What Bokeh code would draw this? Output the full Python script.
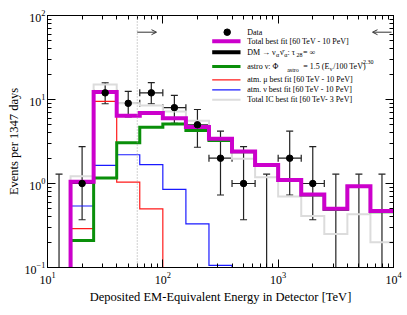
import numpy as np
from bokeh.plotting import figure
from bokeh.models import (LogAxis, LogTicker, Whisker, TeeHead, Span, Arrow,
                          OpenHead, Label, ColumnDataSource)
from bokeh.embed import file_html
from bokeh.resources import INLINE

# ---------------- data ----------------
log_edges = [1.0 + 0.2 * i for i in range(16)]          # 10 TeV ... 10 PeV
data_counts = [0, 1, 12, 9, 12, 8, 5, 2, 1, 0, 2, 1, 0, 0, 0]
data_lo = [0, 0.37, 8.9, 6.2, 8.9, 5.2, 2.7, 0.73, 0.37, 0, 0.73, 0.37, 0, 0, 0]
data_hi = [1.29, 2.75, 15.8, 12.5, 15.9, 11.2, 7.6, 4.2, 2.75, 1.29, 4.2, 2.75, 1.29, 1.29, 1.29]

total_fit = [0, 1.05, 12.3, 6.4, 6.9, 6.0, 4.7, 3.42, 2.4, 1.66, 1.1, 0.74, 0.5, 0.93, 0.47]
astro = [0, 0.21, 1.16, 3.05, 4.68, 5.1, 4.27, 3.25, 2.38, 1.64, 1.09, 0.73, 0.49, 0.92, 0.46]
atm_mu = [0, 0.29, 9.5, 1.04, 0.50, 0, 0, 0, 0, 0, 0, 0, 0, 0, 0]
atm_nu = [0, 0.54, 1.64, 2.2, 1.68, 0.85, 0.33, 0.106, 0, 0, 0, 0, 0, 0, 0]
ic_total = [0, 1.22, 15.1, 9.0, 8.5, 7.2, 5.6, 3.3, 1.97, 1.19, 0.70, 0.41, 0.25, 0.43, 0.20]

fit_lo, fit_hi = 60.0, 1.0e4

FONT = "Liberation Serif"

edges = [10 ** e for e in log_edges]
centers = [10 ** ((log_edges[i] + log_edges[i + 1]) / 2) for i in range(len(log_edges) - 1)]
FLOOR = 1e-3

p = figure(width=407, height=315, x_axis_type="log", y_axis_type="log",
           x_range=(10, 1e4), y_range=(0.1, 100), output_backend="svg",
           toolbar_location=None, min_border_left=47, min_border_right=14,
           min_border_top=15, min_border_bottom=48)
p.grid.visible = False
p.outline_line_color = "black"
p.outline_line_width = 1
p.background_fill_color = "white"
p.border_fill_color = "white"


def style_axis(ax, labels=True):
    ax.ticker = LogTicker(num_minor_ticks=10)
    ax.major_tick_in = 8
    ax.major_tick_out = 0
    ax.minor_tick_in = 4
    ax.minor_tick_out = 0
    ax.axis_line_color = "black"
    ax.major_tick_line_color = "black"
    ax.minor_tick_line_color = "black"
    if labels:
        ax.major_label_text_font = FONT
        ax.major_label_text_font_size = "12px"
        ax.major_label_text_color = "black"
        ax.axis_label_text_font = FONT
        ax.axis_label_text_font_size = "12.5px"
        ax.axis_label_text_font_style = "normal"
        ax.axis_label_text_color = "black"
    else:
        ax.major_label_text_font_size = "1px"
        ax.major_label_text_alpha = 0
        ax.major_label_standoff = 0


style_axis(p.xaxis[0])
style_axis(p.yaxis[0])
p.xaxis[0].axis_label = "Deposited EM-Equivalent Energy in Detector [TeV]"
p.yaxis[0].axis_label = "Events per 1347 days"
p.xaxis[0].major_label_standoff = 4
p.xaxis[0].axis_label_standoff = 3
p.yaxis[0].major_label_standoff = 2
p.yaxis[0].axis_label_standoff = 1

top_ax = LogAxis()
right_ax = LogAxis()
style_axis(top_ax, labels=False)
style_axis(right_ax, labels=False)
p.add_layout(top_ax, "above")
p.add_layout(right_ax, "right")


def step_xy(vals):
    xs, ys = [], []
    prev = FLOOR
    for i, v in enumerate(vals):
        v = v if v > 0 else FLOOR
        xs += [edges[i], edges[i]]
        ys += [prev, v]
        prev = v
    xs.append(edges[-1])
    ys.append(prev)
    return xs, ys


# vertical dotted line at 60 TeV
p.add_layout(Span(location=fit_lo, dimension="height", line_color="#a0a0a0",
                  line_dash="1 2", line_width=1))

for vals, col, w in [(ic_total, "#dcdcdc", 2),
                     (atm_mu, "#ff1a1a", 1.2),
                     (atm_nu, "#1a1aff", 1.2),
                     (astro, "#0a8f0a", 3),
                     (total_fit, "#cc00cc", 4)]:
    xs, ys = step_xy(vals)
    p.line(xs, ys, line_color=col, line_width=w, line_join="miter")

# data
nz = [i for i, c in enumerate(data_counts) if c > 0]
zz = [i for i, c in enumerate(data_counts) if c == 0]
src = ColumnDataSource(dict(
    x=[centers[i] for i in nz], y=[data_counts[i] for i in nz],
    lo=[data_lo[i] for i in nz], hi=[data_hi[i] for i in nz],
    xlo=[edges[i] for i in nz], xhi=[edges[i + 1] for i in nz]))
src0 = ColumnDataSource(dict(
    x=[centers[i] for i in zz], lo=[FLOOR for i in zz], hi=[data_hi[i] for i in zz]))

EC = "#222222"
p.add_layout(Whisker(source=src0, base="x", lower="lo", upper="hi", dimension="height",
                     line_color=EC, line_width=1.2, lower_head=None,
                     upper_head=TeeHead(size=7, line_color=EC, line_width=1.2)))
p.add_layout(Whisker(source=src, base="x", lower="lo", upper="hi", dimension="height",
                     line_color=EC, line_width=1.2,
                     lower_head=TeeHead(size=7, line_color=EC, line_width=1.2),
                     upper_head=TeeHead(size=7, line_color=EC, line_width=1.2)))
p.add_layout(Whisker(source=src, base="y", lower="xlo", upper="xhi", dimension="width",
                     line_color=EC, line_width=1.2,
                     lower_head=TeeHead(size=7, line_color=EC, line_width=1.2),
                     upper_head=TeeHead(size=7, line_color=EC, line_width=1.2)))
p.scatter("x", "y", source=src, size=6.5, color="black")

# ---- helpers to place decorations by frame pixel position ----
FL, FR, FT, FB = 47.0, 393.0, 15.0, 267.0


def X(px):
    return 10 ** (1 + 3 * (px - FL) / (FR - FL))


def Y(py):
    return 10 ** (2 - 3 * (py - FT) / (FB - FT))


# fit range arrows
p.add_layout(Arrow(x_start=fit_lo, y_start=Y(31.7), x_end=X(156), y_end=Y(31.7),
                   line_color="#333333", line_width=1,
                   end=OpenHead(size=5, line_color="#333333", line_width=1)))
p.add_layout(Arrow(x_start=X(391), y_start=Y(31.7), x_end=X(372), y_end=Y(31.7),
                   line_color="#333333", line_width=1,
                   end=OpenHead(size=5, line_color="#333333", line_width=1)))

# ---- legend ----
LX0, LX1, TX = 211.7, 240.0, 246.7


def lab(px, py, text, size=8):
    p.add_layout(Label(x=X(px), y=Y(py), text=text, text_font=FONT,
                       text_font_size=f"{size}px", text_baseline="middle",
                       text_color="black"))


def leg_line(py, col, w):
    p.line([X(LX0), X(LX1)], [Y(py), Y(py)], line_color=col, line_width=w)


p.scatter([X(226.7)], [Y(31.7)], size=6.5, color="black")
lab(TX, 31.7, "Data")
leg_line(40.7, "#cc00cc", 4)
lab(TX, 40.7, "Total best fit [60 TeV - 10 PeV]")
leg_line(51.7, "black", 4)
lab(TX, 51.7, "DM \u2192 \u03bd")
lab(275.5, 54.5, "\u03b1", 6)
lab(279.5, 51.7, "\u03bd\u0304")
lab(283.7, 54.5, "\u03b1", 6)
lab(287.0, 51.7, ":  \u03c4")
lab(296.0, 54.5, "28", 6)
lab(302.5, 51.7, " = \u221e")
leg_line(66.0, "#0a8f0a", 3)
lab(TX, 65.7, "astro \u03bd: \u03a6")
lab(286.7, 69.5, "astro", 6)
lab(302.7, 65.7, "= 1.5 (E")
lab(329.3, 68.5, "\u03bd", 6)
lab(332.7, 65.7, "/100 TeV)")
lab(360.5, 61.0, "-2.30", 6)
leg_line(79.3, "#ff1a1a", 1.2)
lab(TX, 79.3, "atm. \u03bc best fit [60 TeV - 10 PeV]")
leg_line(89.3, "#1a1aff", 1.2)
lab(TX, 89.3, "atm. \u03bd best fit [60 TeV - 10 PeV]")
leg_line(99.3, "#dcdcdc", 2)
lab(TX, 99.3, "Total IC best fit [60 TeV- 3 PeV]")

open("out.html", "w").write(file_html(p, INLINE))
